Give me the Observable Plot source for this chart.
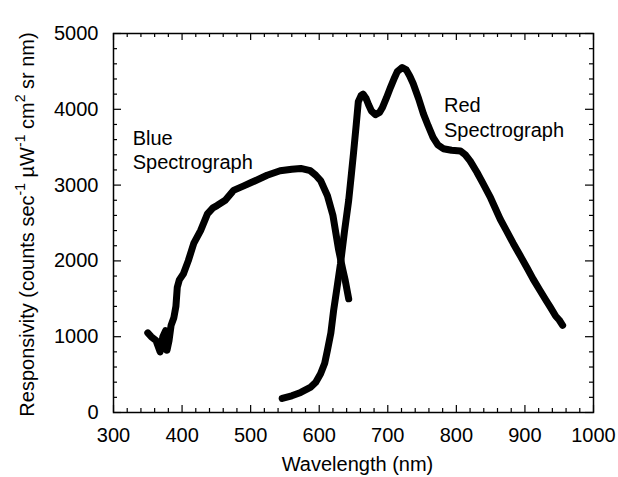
<!DOCTYPE html>
<html>
<head>
<meta charset="utf-8">
<script src="https://cdn.jsdelivr.net/npm/d3@7"></script>
<script src="https://cdn.jsdelivr.net/npm/@observablehq/plot@0.6"></script>
<style>
  html, body { margin: 0; padding: 0; background: #fff; overflow: hidden; }
</style>
</head>
<body>
<div id="chart"></div>
<script>
// Blue spectrograph (wavelength nm, responsivity)
const blueWavelength = [350,355,362,368,372,376,378,381,384,388,391,393,396,402,409,417,427,437,445,451,463,475,490,500,524,543,560,573,587,595,602,612,620,628,634,638,643];
const blueResp       = [1050,1000,950,800,1000,1080,820,950,1150,1250,1400,1650,1750,1830,2000,2230,2400,2620,2700,2730,2800,2930,2990,3030,3130,3190,3210,3220,3190,3130,3060,2860,2600,2160,1900,1740,1500];

// Red spectrograph
const redWavelength = [546,560,573,587,595,602,608,612,617,621,626,631,637,643,647,650,654,657,661,664,668,672,676,682,688,692,698,704,710,714,721,727,732,737,745,752,759,766,773,781,793,806,813,820,830,839,850,864,873,883,893,903,912,922,930,937,945,950,955];
const redResp       = [185,220,265,330,400,510,650,820,1050,1345,1650,1960,2400,2800,3150,3420,3800,4100,4180,4200,4150,4060,3980,3930,3960,4020,4150,4290,4420,4500,4550,4520,4440,4340,4140,3940,3780,3630,3530,3480,3460,3450,3400,3320,3170,3020,2830,2550,2400,2230,2070,1910,1760,1610,1490,1390,1270,1220,1150];

// Axis ticks
const xTicks = [300,400,500,600,700,800,900,1000];
const yTicks = [0,1000,2000,3000,4000,5000];
const xMinor = d3.range(300, 1001, 20).filter(v => v % 100 !== 0);
const yMinor = d3.range(0, 5001, 200).filter(v => v % 1000 !== 0);

const annotations = [
  {x: 328, y: 3760, text: "Blue\nSpectrograph"},
  {x: 782, y: 4190, text: "Red\nSpectrograph"}
];

const blue = blueWavelength.map((w, i) => ({w, r: blueResp[i]}));
const red = redWavelength.map((w, i) => ({w, r: redResp[i]}));

const W = 618, H = 477, mL = 113, mR = 25, mT = 33, mB = 65;
const plotH = H - mT - mB;
const plotW = W - mL - mR;

const svg = Plot.plot({
  width: W,
  height: H,
  marginLeft: mL,
  marginRight: mR,
  marginTop: mT,
  marginBottom: mB,
  style: {fontFamily: "'Liberation Sans', Arial, sans-serif", fontSize: "20px", background: "#fff", color: "#000"},
  x: {domain: [300, 1000]},
  y: {domain: [0, 5000]},
  marks: [
    // tick labels
    Plot.axisX({ticks: xTicks, tickSize: 0, tickPadding: 15, fontSize: 20, label: null, tickFormat: d => String(d)}),
    Plot.axisY({ticks: yTicks, tickSize: 0, tickPadding: 15, fontSize: 20, label: null, tickFormat: d => String(d)}),
    // inward ticks: bottom
    Plot.tickX(xTicks, {x: d => d, insetTop: plotH - 7, stroke: "#000", strokeWidth: 1.2}),
    Plot.tickX(xMinor, {x: d => d, insetTop: plotH - 4, stroke: "#000", strokeWidth: 1.2}),
    // top
    Plot.tickX(xTicks, {x: d => d, insetBottom: plotH - 7, stroke: "#000", strokeWidth: 1.2}),
    Plot.tickX(xMinor, {x: d => d, insetBottom: plotH - 4, stroke: "#000", strokeWidth: 1.2}),
    // left
    Plot.tickY(yTicks, {y: d => d, insetRight: plotW - 8, stroke: "#000", strokeWidth: 1.2}),
    Plot.tickY(yMinor, {y: d => d, insetRight: plotW - 4, stroke: "#000", strokeWidth: 1.2}),
    // right
    Plot.tickY(yTicks, {y: d => d, insetLeft: plotW - 8, stroke: "#000", strokeWidth: 1.2}),
    Plot.tickY(yMinor, {y: d => d, insetLeft: plotW - 4, stroke: "#000", strokeWidth: 1.2}),
    Plot.frame({stroke: "#000", strokeWidth: 1.5}),
    // curves
    Plot.line(blue, {x: "w", y: "r", stroke: "#000", strokeWidth: 7, strokeLinecap: "round", strokeLinejoin: "round"}),
    Plot.line(red, {x: "w", y: "r", stroke: "#000", strokeWidth: 7, strokeLinecap: "round", strokeLinejoin: "round"}),
    // annotations
    Plot.text(annotations, {x: "x", y: "y", text: "text", textAnchor: "start", lineAnchor: "top", lineHeight: 1.22, fontSize: 20, fill: "#000"}),
    // x axis title
    Plot.text(["Wavelength (nm)"], {frameAnchor: "bottom", dy: 52, dx: 4, lineAnchor: "middle", fontSize: 20, fill: "#000", text: d => d})
  ]
});

// y axis title with superscripts
const t = d3.select(svg).append("text")
  .attr("transform", `translate(29, ${(mT + (H - mB)) / 2 + 2}) rotate(-90)`)
  .attr("text-anchor", "middle")
  .attr("dominant-baseline", "middle")
  .attr("font-size", 20)
  .attr("fill", "#000");
const parts = [
  ["Responsivity (counts sec", false],
  ["-1", true],
  [" \u00B5W", false],
  ["-1", true],
  [" cm", false],
  ["2", true],
  [" sr nm)", false]
];
parts.forEach(([s, sup]) => {
  const ts = t.append("tspan").text(s);
  if (sup) ts.attr("font-size", 14).attr("baseline-shift", "super");
});

document.getElementById("chart").appendChild(svg);
</script>
</body>
</html>
